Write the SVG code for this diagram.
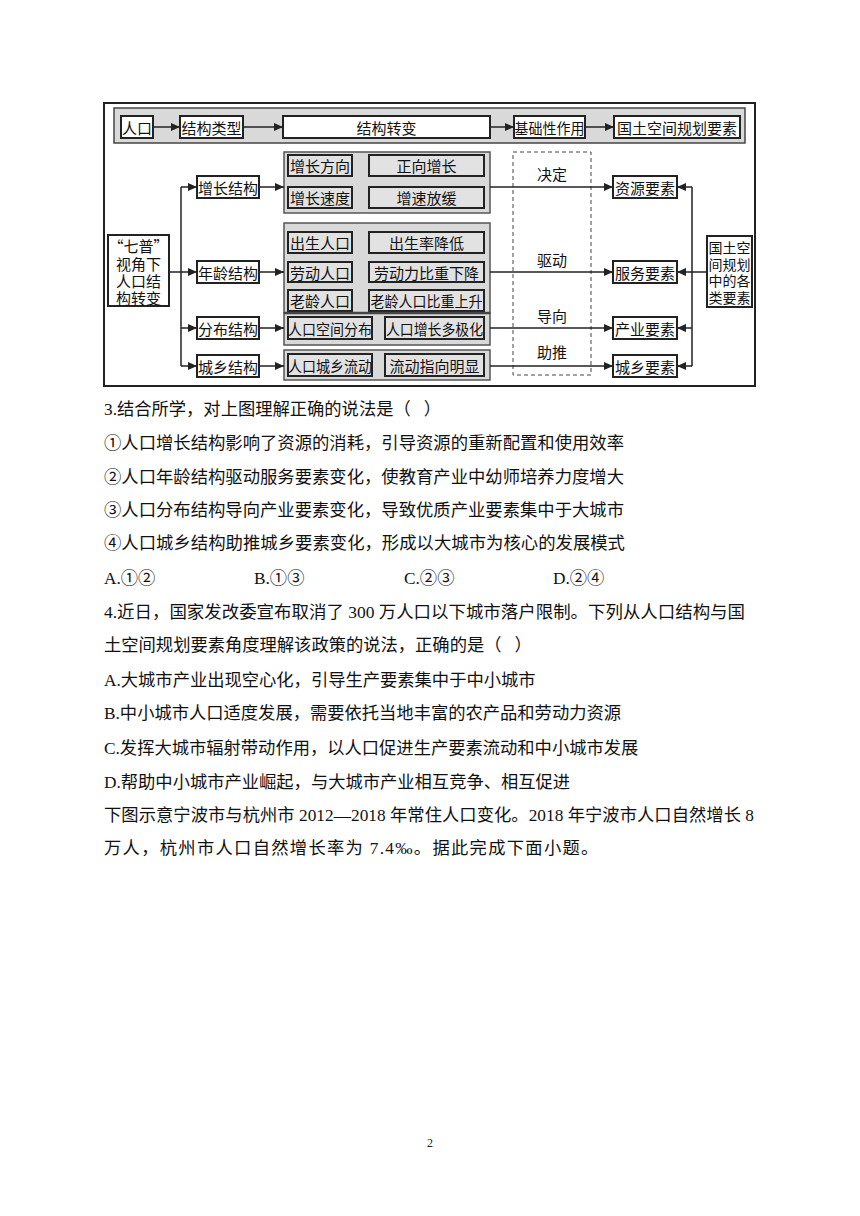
<svg xmlns="http://www.w3.org/2000/svg" width="860" height="1216" viewBox="0 0 860 1216">
<defs>
<marker id="ah" markerUnits="userSpaceOnUse" markerWidth="9" markerHeight="8" refX="9" refY="4" orient="auto">
<path d="M0,0 L9,4 L0,8 z" fill="#222"/>
</marker>
</defs>
<style>
.d{font-family:"Noto Sans CJK SC",sans-serif;font-size:15px;fill:#111;dominant-baseline:central;text-anchor:middle}
.s{font-size:14px}
.t{font-family:"Liberation Serif","Noto Sans CJK SC",serif;font-size:17.3px;fill:#111;dominant-baseline:central}
.band{fill:#d9d9d9;stroke:#444;stroke-width:1.5}
.grp{fill:#d9d9d9;stroke:#555;stroke-width:1.5}
.in{fill:#e2e2e2;stroke:#222;stroke-width:2}
.wb{fill:#fff;stroke:#222;stroke-width:2}
.ln{stroke:#222;stroke-width:1.5;fill:none}
.ar{stroke:#222;stroke-width:1.5;fill:none;marker-end:url(#ah)}
</style>
<rect width="860" height="1216" fill="#fff"/>

<g id="frame"><rect x="104" y="103" width="651" height="283" fill="#fff" stroke="#222" stroke-width="2"/></g>

<g id="topband">
<rect class="band" x="114" y="108" width="631" height="35"/>
</g>
<g id="n-renkou"><rect class="wb" x="121" y="116" width="32" height="22"/><text class="d" x="137" y="127">人口</text></g>
<g id="n-jglx"><rect class="wb" x="180" y="116" width="63" height="22"/><text class="d" x="211.5" y="127">结构类型</text></g>
<g id="n-jgzb"><rect class="wb" x="283" y="116" width="207" height="22"/><text class="d" x="386.5" y="127">结构转变</text></g>
<g id="n-jcx"><rect class="wb" x="514" y="116" width="71" height="22"/><text class="d" x="549.5" y="127" textLength="70" lengthAdjust="spacingAndGlyphs">基础性作用</text></g>
<g id="n-gtkj"><rect class="wb" x="614" y="116" width="126" height="22"/><text class="d" x="677" y="127">国土空间规划要素</text></g>

<g id="n-qipu"><rect class="wb" x="108" y="235" width="61" height="71"/>
<text class="d"><tspan x="138.5" y="245">“七普”</tspan><tspan x="138.5" y="262.5">视角下</tspan><tspan x="138.5" y="280">人口结</tspan><tspan x="138.5" y="297">构转变</tspan></text></g>

<g id="n-zzjg"><rect class="wb" x="197" y="176" width="62" height="22"/><text class="d" x="228" y="187">增长结构</text></g>
<g id="n-nljg"><rect class="wb" x="197" y="261" width="62" height="22"/><text class="d" x="228" y="272">年龄结构</text></g>
<g id="n-fbjg"><rect class="wb" x="197" y="317" width="62" height="22"/><text class="d" x="228" y="328">分布结构</text></g>
<g id="n-cxjg"><rect class="wb" x="197" y="355" width="62" height="22"/><text class="d" x="228" y="366">城乡结构</text></g>

<g id="g-growth"><rect class="grp" x="284" y="152" width="206" height="61"/>
<rect class="in" x="288" y="155" width="64" height="21"/><text class="d" x="320" y="165.5">增长方向</text>
<rect class="in" x="369" y="155" width="115" height="21"/><text class="d" x="426.5" y="165.5">正向增长</text>
<rect class="in" x="288" y="187" width="64" height="21"/><text class="d" x="320" y="197.5">增长速度</text>
<rect class="in" x="369" y="187" width="115" height="21"/><text class="d" x="426.5" y="197.5">增速放缓</text></g>

<g id="g-age"><rect class="grp" x="284" y="223" width="206" height="90"/>
<rect class="in" x="288" y="232" width="64" height="21"/><text class="d" x="320" y="242.5">出生人口</text>
<rect class="in" x="369" y="232" width="115" height="21"/><text class="d" x="426.5" y="242.5">出生率降低</text>
<rect class="in" x="288" y="262" width="64" height="20"/><text class="d" x="320" y="272">劳动人口</text>
<rect class="in" x="369" y="262" width="115" height="20"/><text class="d" x="426.5" y="272">劳动力比重下降</text>
<rect class="in" x="288" y="290" width="64" height="21"/><text class="d" x="320" y="300.5">老龄人口</text>
<rect class="in" x="369" y="290" width="115" height="21"/><text class="d" x="426.5" y="300.5" textLength="112" lengthAdjust="spacingAndGlyphs">老龄人口比重上升</text></g>

<g id="g-dist"><rect class="grp" x="284" y="313" width="206" height="32"/>
<line x1="284" y1="313" x2="490" y2="313" stroke="#444" stroke-width="2.5"/>
<rect class="in" x="288" y="317" width="84" height="22"/><text class="d" x="330" y="328" textLength="84" lengthAdjust="spacingAndGlyphs">人口空间分布</text>
<rect class="in" x="385" y="317" width="99" height="22"/><text class="d" x="434.5" y="328" textLength="97" lengthAdjust="spacingAndGlyphs">人口增长多极化</text></g>

<g id="g-urban"><rect class="grp" x="284" y="350" width="206" height="30"/>
<rect class="in" x="288" y="354" width="84" height="22"/><text class="d" x="330" y="365" textLength="84" lengthAdjust="spacingAndGlyphs">人口城乡流动</text>
<rect class="in" x="385" y="354" width="99" height="22"/><text class="d" x="434.5" y="365">流动指向明显</text></g>

<g id="dashbox"><rect x="513" y="152" width="78" height="223" fill="none" stroke="#444" stroke-width="1" stroke-dasharray="4,3"/>
<text class="d" x="552" y="173">决定</text><text class="d" x="552" y="259">驱动</text><text class="d" x="552" y="315">导向</text><text class="d" x="552" y="351">助推</text></g>

<g id="n-zyys"><rect class="wb" x="613" y="176" width="64" height="22"/><text class="d" x="645" y="187">资源要素</text></g>
<g id="n-fwys"><rect class="wb" x="613" y="261" width="64" height="22"/><text class="d" x="645" y="272">服务要素</text></g>
<g id="n-cyys"><rect class="wb" x="613" y="317" width="64" height="22"/><text class="d" x="645" y="328">产业要素</text></g>
<g id="n-cxys"><rect class="wb" x="613" y="355" width="64" height="22"/><text class="d" x="645" y="366">城乡要素</text></g>

<g id="n-gtgl"><rect class="wb" x="707" y="236" width="45" height="71"/>
<text class="d s"><tspan x="729.5" y="247">国土空</tspan><tspan x="729.5" y="263.5">间规划</tspan><tspan x="729.5" y="280">中的各</tspan><tspan x="729.5" y="296.5">类要素</tspan></text></g>

<g id="connectors">
<line class="ar" x1="153" y1="127" x2="180" y2="127"/>
<line class="ar" x1="243" y1="127" x2="283" y2="127"/>
<line class="ar" x1="490" y1="127" x2="514" y2="127"/>
<line class="ar" x1="585" y1="127" x2="614" y2="127"/>
<line class="ln" x1="181" y1="187" x2="181" y2="366"/>
<line class="ar" x1="169" y1="272" x2="197" y2="272"/>
<line class="ar" x1="181" y1="187" x2="197" y2="187"/>
<line class="ar" x1="181" y1="328" x2="197" y2="328"/>
<line class="ar" x1="181" y1="366" x2="197" y2="366"/>
<line class="ar" x1="259" y1="187" x2="284" y2="187"/>
<line class="ar" x1="259" y1="272" x2="284" y2="272"/>
<line class="ar" x1="259" y1="328" x2="284" y2="328"/>
<line class="ar" x1="259" y1="366" x2="284" y2="366"/>
<line class="ar" x1="490" y1="187" x2="613" y2="187"/>
<line class="ar" x1="490" y1="272" x2="613" y2="272"/>
<line class="ar" x1="490" y1="328" x2="613" y2="328"/>
<line class="ar" x1="490" y1="366" x2="613" y2="366"/>
<line class="ln" x1="692" y1="187" x2="692" y2="366"/>
<line class="ln" x1="707" y1="272" x2="692" y2="272"/>
<line class="ar" x1="692" y1="187" x2="677" y2="187"/>
<line class="ar" x1="692" y1="272" x2="677" y2="272"/>
<line class="ar" x1="692" y1="328" x2="677" y2="328"/>
<line class="ar" x1="692" y1="366" x2="677" y2="366"/>
</g>

<g id="text">
<text class="t" x="104" y="409" xml:space="preserve">3.结合所学，对上图理解正确的说法是（   ）</text>
<text class="t" x="104" y="443" textLength="520" lengthAdjust="spacingAndGlyphs">①人口增长结构影响了资源的消耗，引导资源的重新配置和使用效率</text>
<text class="t" x="104" y="477" textLength="520" lengthAdjust="spacingAndGlyphs">②人口年龄结构驱动服务要素变化，使教育产业中幼师培养力度增大</text>
<text class="t" x="104" y="510" textLength="520" lengthAdjust="spacingAndGlyphs">③人口分布结构导向产业要素变化，导致优质产业要素集中于大城市</text>
<text class="t" x="104" y="543" textLength="521" lengthAdjust="spacingAndGlyphs">④人口城乡结构助推城乡要素变化，形成以大城市为核心的发展模式</text>
<text class="t" x="104" y="578">A.①②</text>
<text class="t" x="254" y="578">B.①③</text>
<text class="t" x="404" y="578">C.②③</text>
<text class="t" x="553" y="578">D.②④</text>
<text class="t" x="104" y="612" textLength="641" lengthAdjust="spacingAndGlyphs">4.近日，国家发改委宣布取消了 300 万人口以下城市落户限制。下列从人口结构与国</text>
<text class="t" x="104" y="645" xml:space="preserve">土空间规划要素角度理解该政策的说法，正确的是（   ）</text>
<text class="t" x="104" y="680">A.大城市产业出现空心化，引导生产要素集中于中小城市</text>
<text class="t" x="104" y="713">B.中小城市人口适度发展，需要依托当地丰富的农产品和劳动力资源</text>
<text class="t" x="104" y="748">C.发挥大城市辐射带动作用，以人口促进生产要素流动和中小城市发展</text>
<text class="t" x="104" y="782">D.帮助中小城市产业崛起，与大城市产业相互竞争、相互促进</text>
<text class="t" x="104" y="815" textLength="650" lengthAdjust="spacing">下图示意宁波市与杭州市 2012—2018 年常住人口变化。2018 年宁波市人口自然增长 8</text>
<text class="t" x="104" y="848" letter-spacing="1.3">万人，杭州市人口自然增长率为 7.4‰。据此完成下面小题。</text>
<text x="430" y="1147" font-family="Liberation Serif, serif" font-size="12" text-anchor="middle" fill="#222">2</text>
</g>
</svg>
